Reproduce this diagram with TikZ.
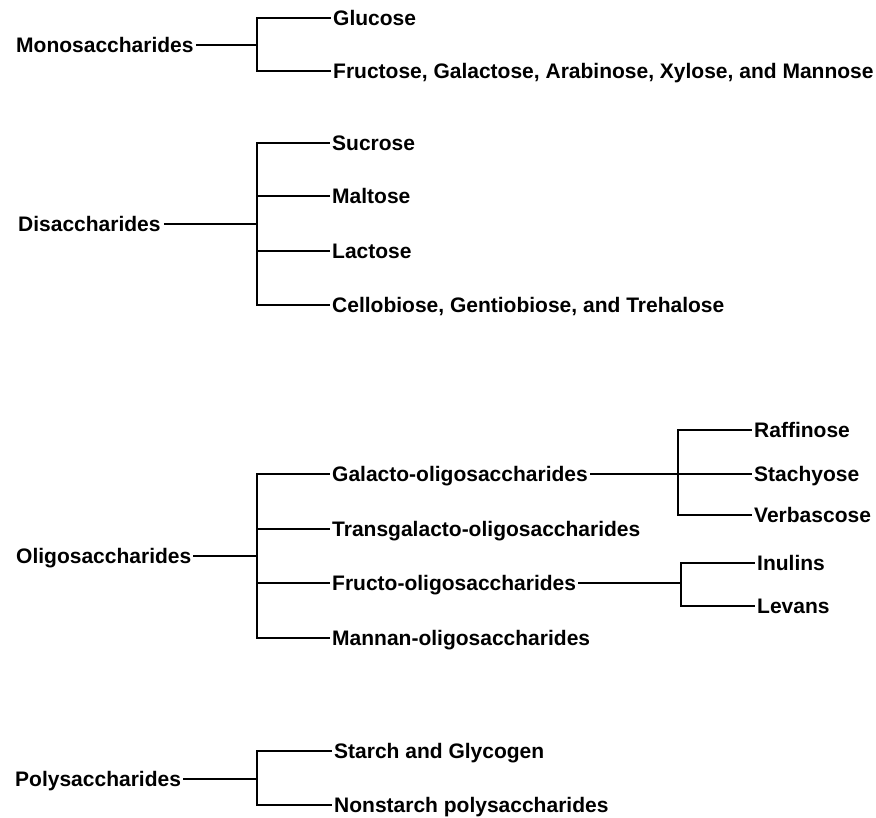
\documentclass[tikz,border=0pt]{standalone}
\usepackage{fontspec}
\setmainfont{Liberation Sans}
\usepackage{tikz}
\usetikzlibrary{positioning,calc}

\begin{document}
\begin{tikzpicture}[x=1pt,y=-1pt,
                          item/.style={anchor=west, inner xsep=2pt, inner ysep=0pt,
                                       text height=15pt, text depth=0pt,
                                       font=\fontsize{21}{25}\selectfont\bfseries},
                          branch/.style={line width=1.2pt, black},
                         ]

\useasboundingbox (0,0) rectangle (876,818);

% monosaccharides
\node[item] (mono) at (14,45) {Monosaccharides};
\coordinate (monofork) at (257,45);
\node[item] (glucose) at (331,18) {Glucose};
\node[item] (fructose) at (331,71) {Fructose, Galactose, Arabinose, Xylose, and Mannose};

\draw[branch] (mono.east) -- (monofork);
\draw[branch] (monofork) |- (glucose.west);
\draw[branch] (monofork) |- (fructose.west);

% disaccharides
\node[item] (di) at (16,224) {Disaccharides};
\coordinate (difork) at (257,224);
\node[item] (sucrose) at (330,143) {Sucrose};
\node[item] (maltose) at (330,196) {Maltose};
\node[item] (lactose) at (330,251) {Lactose};
\node[item] (cello) at (330,305) {Cellobiose, Gentiobiose, and Trehalose};

\draw[branch, shorten <=1pt] (di.east) -- (difork);
\draw[branch] (difork) |- (sucrose.west);
\draw[branch] (difork) |- (maltose.west);
\draw[branch] (difork) |- (lactose.west);
\draw[branch] (difork) |- (cello.west);

% oligosaccharides
\node[item] (oligo) at (14,556) {Oligosaccharides};
\coordinate (oligofork) at (257,556);
\node[item] (galacto) at (330,474) {Galacto-oligosaccharides};
\node[item] (transgal) at (330,529) {Transgalacto-oligosaccharides};
\node[item] (fructo) at (330,583) {Fructo-oligosaccharides};
\node[item] (mannan) at (330,638) {Mannan-oligosaccharides};

\draw[branch] (oligo.east) -- (oligofork);
\draw[branch] (oligofork) |- (galacto.west);
\draw[branch] (oligofork) |- (transgal.west);
\draw[branch] (oligofork) |- (fructo.west);
\draw[branch] (oligofork) |- (mannan.west);

\coordinate (galfork) at (678,474);
\node[item] (raffinose) at (752,430) {Raffinose};
\node[item] (stachyose) at (752,474) {Stachyose};
\node[item] (verbascose) at (752,515) {Verbascose};

\draw[branch] (galacto.east) -- (stachyose.west);
\draw[branch] (galfork) |- (raffinose.west);
\draw[branch] (galfork) |- (verbascose.west);

\coordinate (frufork) at (681,583);
\node[item] (inulins) at (755,563) {Inulins};
\node[item] (levans) at (755,606) {Levans};

\draw[branch] (fructo.east) -- (frufork);
\draw[branch] (frufork) |- (inulins.west);
\draw[branch] (frufork) |- (levans.west);

% polysaccharides
\node[item] (poly) at (13,779) {Polysaccharides};
\coordinate (polyfork) at (257,779);
\node[item] (starch) at (332,751) {Starch and Glycogen};
\node[item] (nonstarch) at (332,805) {Nonstarch polysaccharides};

\draw[branch] (poly.east) -- (polyfork);
\draw[branch] (polyfork) |- (starch.west);
\draw[branch] (polyfork) |- (nonstarch.west);

\end{tikzpicture}
\end{document}
